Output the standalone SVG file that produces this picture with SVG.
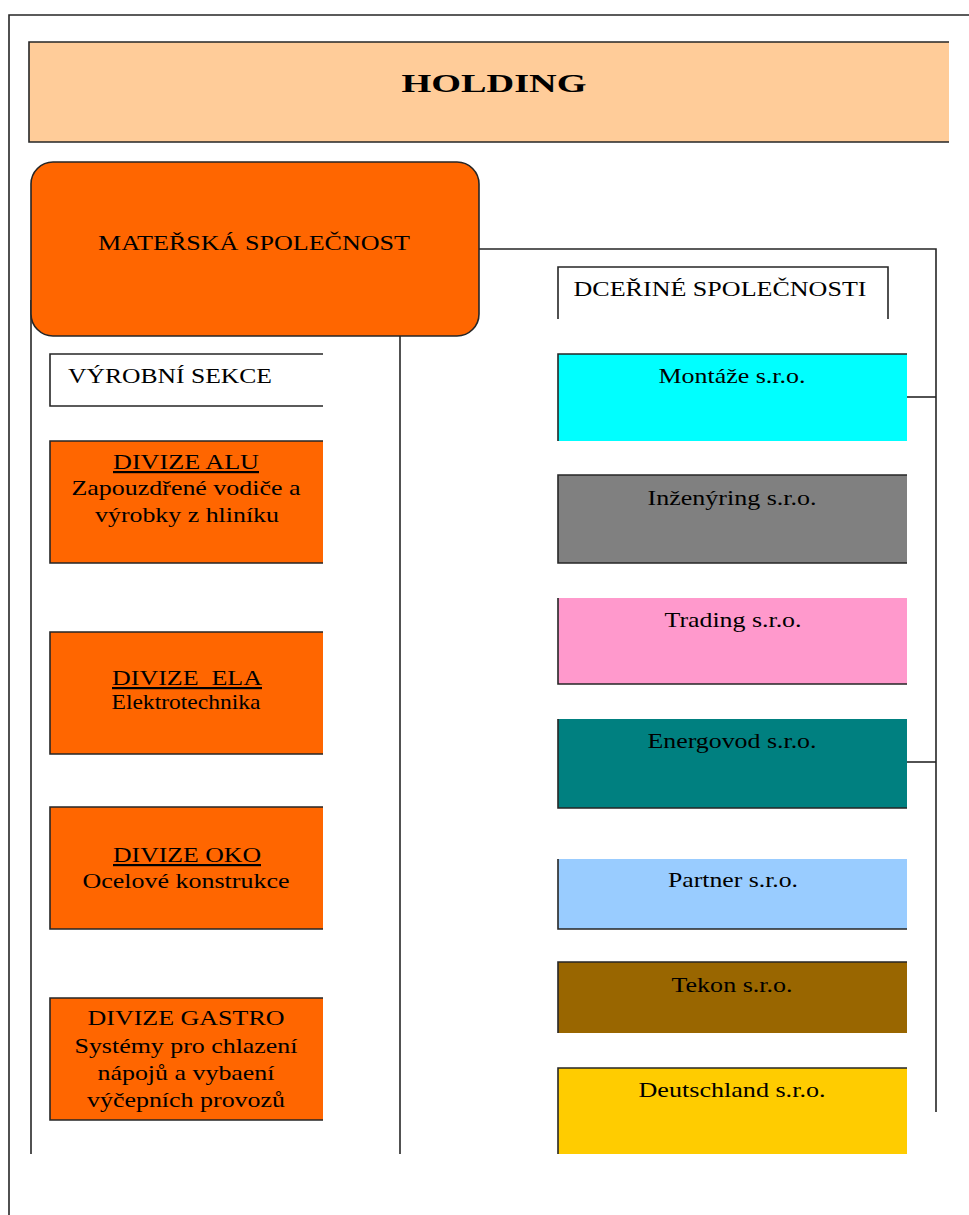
<svg xmlns="http://www.w3.org/2000/svg" width="969" height="1215" viewBox="0 0 969 1215">
<style>
  .ln{fill:none;stroke:#262626;stroke-width:1.6}
  .t{font-family:"Liberation Serif","Times New Roman",serif;font-size:22px;fill:#000;text-anchor:middle}
  .b{font-weight:bold;font-size:25px}
  .u{text-decoration:underline}
  .orange{fill:#FF6600}
</style>
<rect width="969" height="1215" fill="#fff"/>
<g id="frame"><path class="ln" d="M9,1215 V15 H969"/></g>

<g id="holding">
  <rect x="29" y="42" width="920" height="100" fill="#FFCC99"/>
  <path class="ln" d="M949,42 H29 V142 H949"/>
  <text class="t b" x="494" y="92" textLength="185" lengthAdjust="spacingAndGlyphs">HOLDING</text>
</g>

<g id="connectors">
  <path class="ln" d="M479,249 H936 V1112"/>
  <path class="ln" d="M907,397 H936"/>
  <path class="ln" d="M907,762 H936"/>
  <path class="ln" d="M400,336 V1154"/>
  <path class="ln" d="M31,300 V1154"/>
</g>

<g id="materska">
  <rect x="31" y="162" width="448" height="174" rx="22" ry="22" fill="#FF6600" stroke="#262626" stroke-width="1.6"/>
  <text class="t" x="254" y="250" textLength="312" lengthAdjust="spacingAndGlyphs">MATEŘSKÁ SPOLEČNOST</text>
</g>

<g id="vyrobni">
  <path class="ln" d="M323,354 H50 V406 H323"/>
  <text class="t" x="170" y="383" textLength="204" lengthAdjust="spacingAndGlyphs">VÝROBNÍ SEKCE</text>
</g>

<g id="dcerine">
  <path class="ln" d="M558,319 V267 H888 V319"/>
  <text class="t" x="720" y="296" textLength="293" lengthAdjust="spacingAndGlyphs">DCEŘINÉ SPOLEČNOSTI</text>
</g>

<g id="alu">
  <rect class="orange" x="50" y="441" width="273" height="122"/>
  <path class="ln" d="M323,441 H50 V563 H323"/>
  <text class="t u" x="186" y="469" textLength="146" lengthAdjust="spacingAndGlyphs">DIVIZE ALU</text>
  <text class="t" x="186" y="495" textLength="229" lengthAdjust="spacingAndGlyphs">Zapouzdřené vodiče a</text>
  <text class="t" x="187" y="522" textLength="184" lengthAdjust="spacingAndGlyphs">výrobky z hliníku</text>
</g>

<g id="ela">
  <rect class="orange" x="50" y="632" width="273" height="122"/>
  <path class="ln" d="M323,632 H50 V754 H323"/>
  <text class="t u" x="187" y="685" textLength="150" lengthAdjust="spacingAndGlyphs" xml:space="preserve">DIVIZE  ELA</text>
  <text class="t" x="186" y="709" textLength="149" lengthAdjust="spacingAndGlyphs">Elektrotechnika</text>
</g>

<g id="oko">
  <rect class="orange" x="50" y="807" width="273" height="122"/>
  <path class="ln" d="M323,807 H50 V929 H323"/>
  <text class="t u" x="187" y="862" textLength="148" lengthAdjust="spacingAndGlyphs">DIVIZE OKO</text>
  <text class="t" x="186" y="888" textLength="207" lengthAdjust="spacingAndGlyphs">Ocelové konstrukce</text>
</g>

<g id="gastro">
  <rect class="orange" x="50" y="998" width="273" height="122"/>
  <path class="ln" d="M323,998 H50 V1120 H323"/>
  <text class="t" x="186" y="1025" textLength="197" lengthAdjust="spacingAndGlyphs">DIVIZE GASTRO</text>
  <text class="t" x="186" y="1053" textLength="223" lengthAdjust="spacingAndGlyphs">Systémy pro chlazení</text>
  <text class="t" x="186" y="1080" textLength="177" lengthAdjust="spacingAndGlyphs">nápojů a vybaení</text>
  <text class="t" x="186" y="1107" textLength="198" lengthAdjust="spacingAndGlyphs">výčepních provozů</text>
</g>

<g id="montaze">
  <rect x="558" y="354" width="349" height="87" fill="#00FFFF"/>
  <path class="ln" d="M907,354 H558 V441"/>
  <text class="t" x="732" y="383" textLength="147" lengthAdjust="spacingAndGlyphs">Montáže s.r.o.</text>
</g>

<g id="inzenyring">
  <rect x="558" y="475" width="349" height="88" fill="#808080"/>
  <path class="ln" d="M907,475 H558 V563 H907"/>
  <text class="t" x="732" y="505" textLength="169" lengthAdjust="spacingAndGlyphs">Inženýring s.r.o.</text>
</g>

<g id="trading">
  <rect x="558" y="598" width="349" height="86" fill="#FF99CC"/>
  <path class="ln" d="M558,598 V684 H907"/>
  <text class="t" x="733" y="627" textLength="137" lengthAdjust="spacingAndGlyphs">Trading s.r.o.</text>
</g>

<g id="energovod">
  <rect x="558" y="719" width="349" height="89" fill="#008080"/>
  <path class="ln" d="M558,719 V808 H907"/>
  <text class="t" x="732" y="748" textLength="169" lengthAdjust="spacingAndGlyphs">Energovod s.r.o.</text>
</g>

<g id="partner">
  <rect x="558" y="859" width="349" height="70" fill="#99CCFF"/>
  <path class="ln" d="M558,859 V929 H907"/>
  <text class="t" x="733" y="887" textLength="130" lengthAdjust="spacingAndGlyphs">Partner s.r.o.</text>
</g>

<g id="tekon">
  <rect x="558" y="962" width="349" height="71" fill="#996600"/>
  <path class="ln" d="M907,962 H558 V1033"/>
  <text class="t" x="732" y="992" textLength="121" lengthAdjust="spacingAndGlyphs">Tekon s.r.o.</text>
</g>

<g id="deutschland">
  <rect x="558" y="1068" width="349" height="86" fill="#FFCC00"/>
  <path class="ln" d="M907,1068 H558 V1154"/>
  <text class="t" x="732" y="1097" textLength="187" lengthAdjust="spacingAndGlyphs">Deutschland s.r.o.</text>
</g>
</svg>
